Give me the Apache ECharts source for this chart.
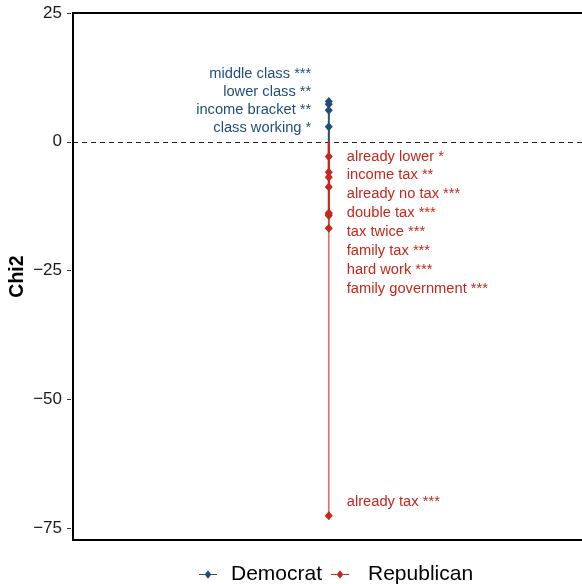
<!DOCTYPE html>
<html>
<head>
<meta charset="utf-8">
<script src="https://cdn.jsdelivr.net/npm/echarts@6/dist/echarts.min.js"></script>
<style>html,body{margin:0;padding:0;background:#fff;}#c{width:582px;height:584px;}</style>
</head>
<body>
<div id="c"></div>
<script>
// ---- data ----
const demTerms = ['middle class ***', 'lower class **', 'income bracket **', 'class working *'];
const demChi2 = [7.8, 7.3, 6.1, 2.9];
const repTerms = ['already lower *', 'income tax **', 'already no tax ***', 'double tax ***', 'tax twice ***', 'family tax ***', 'hard work ***', 'family government ***', 'already tax ***'];
const repChi2 = [-2.85, -5.9, -6.9, -8.8, -13.8, -14.0, -14.3, -16.8, -72.6];
const yTicks = [-75, -50, -25, 0, 25];
const seriesNames = ['Democrat', 'Republican'];

const demColor = '#1f4e79';
const repColor = '#c4281c';
const FONT = 'Liberation Sans, Arial, sans-serif';
const legendIcon = 'path://M0,4.4 L6,4.4 L6,5.6 L0,5.6 Z M6,5 L9.5,0.5 L13,5 L9.5,9.5 Z M13,4.4 L19,4.4 L19,5.6 L13,5.6 Z';

const chart = echarts.init(document.getElementById('c'));

function labelYs(values, up) {
  const ys = values.map(v => chart.convertToPixel({yAxisIndex: 0}, v));
  const out = ys.slice();
  if (up) {
    const gap = 18.3;
    out[ys.length - 1] = ys[ys.length - 1] + 1.5;
    for (let i = ys.length - 2; i >= 0; i--) out[i] = Math.min(ys[i], out[i + 1] - gap);
  } else {
    const gap = 18.9;
    for (let i = 1; i < ys.length; i++) {
      if (ys[i] - out[i - 1] > 100) out[i] = ys[i] - 14;
      else out[i] = Math.max(ys[i], out[i - 1] + gap);
    }
  }
  return out;
}

function segSeries(name, values, color) {
  return {
    type: 'custom', name: name, xAxisIndex: 0, yAxisIndex: 0, z: 2, silent: true,
    data: values.map(v => [0, v]),
    renderItem: function (params, api) {
      const p0 = api.coord([0, 0]);
      const p1 = api.coord([0, api.value(1)]);
      return {type: 'line', shape: {x1: p0[0], y1: p0[1], x2: p1[0], y2: p1[1]},
        style: {stroke: color, lineWidth: 1.7, opacity: 0.65}};
    }
  };
}

function pointSeries(name, terms, values, color, left) {
  return {
    type: 'scatter', name: name, xAxisIndex: 0, yAxisIndex: 0, z: 3,
    symbol: 'diamond', symbolSize: [8, 9],
    itemStyle: {color: color, opacity: 1},
    data: values.map((v, i) => ({value: [0, v], name: terms[i]})),
    label: {show: true, formatter: '{b}', position: left ? 'left' : 'right',
      color: color, fontSize: 14.7, fontFamily: FONT},
    labelLayout: function (params) {
      const ys = labelYs(values, left);
      const cx = params.rect.x + params.rect.width / 2;
      return {x: left ? cx - 17.5 : cx + 18, y: ys[params.dataIndex],
        align: left ? 'right' : 'left', verticalAlign: 'middle'};
    }
  };
}

const option = {
  animation: false,
  backgroundColor: '#fff',
  grid: [
    {left: 71, top: 13, right: 0, height: 527, show: false},
    {left: 71, top: 13, right: 0, height: 515, show: false}
  ],
  xAxis: [
    {type: 'value', gridIndex: 0, min: -1, max: 0.99, position: 'bottom',
      axisLine: {show: true, onZero: false, lineStyle: {color: '#000', width: 2}},
      axisTick: {show: false}, axisLabel: {show: false}, splitLine: {show: false}},
    {type: 'value', gridIndex: 0, min: -1, max: 0.99, position: 'top',
      axisLine: {show: true, onZero: false, lineStyle: {color: '#000', width: 2}},
      axisTick: {show: false}, axisLabel: {show: false}, splitLine: {show: false}},
    {type: 'value', gridIndex: 1, min: -1, max: 1, show: false}
  ],
  yAxis: [
    {type: 'value', gridIndex: 0, min: -77.3, max: 25,
      axisLine: {show: true, onZero: false, lineStyle: {color: '#000', width: 2}},
      axisTick: {show: false}, axisLabel: {show: false}, splitLine: {show: false},
      name: 'Chi2', nameLocation: 'middle', nameGap: 45, nameRotate: 90,
      nameTextStyle: {fontSize: 19.5, fontWeight: 'bold', color: '#000', fontFamily: FONT}},
    {type: 'value', gridIndex: 1, min: yTicks[0], max: yTicks[yTicks.length - 1], interval: 25,
      axisLine: {show: false, onZero: false}, splitLine: {show: false},
      axisTick: {show: true, length: 4, lineStyle: {color: '#333', width: 1}},
      axisLabel: {show: true, fontSize: 17, color: '#1a1a1a', margin: 9, fontFamily: FONT,
        formatter: v => String(v).replace('-', '\u2212')}}
  ],
  legend: {
    data: [
      {name: seriesNames[0], icon: legendIcon, itemStyle: {color: demColor},
        textStyle: {padding: [0, 0, 0, 9]}},
      {name: seriesNames[1], icon: legendIcon, itemStyle: {color: repColor},
        textStyle: {padding: [0, 0, 0, 14]}}
    ],
    left: 194, top: 559, itemWidth: 18, itemHeight: 9, itemGap: 9,
    textStyle: {fontSize: 21, color: '#000', fontFamily: FONT},
    selectedMode: false
  },
  series: [
    segSeries(seriesNames[0], demChi2, demColor),
    segSeries(seriesNames[1], repChi2, repColor),
    pointSeries(seriesNames[0], demTerms, demChi2, demColor, true),
    Object.assign(pointSeries(seriesNames[1], repTerms, repChi2, repColor, false), {
      markLine: {silent: true, symbol: 'none', label: {show: false}, z: 1,
        lineStyle: {type: [5, 4], color: '#222', width: 1.1},
        data: [{yAxis: 0}]}
    })
  ]
};
chart.setOption(option);
</script>
</body>
</html>
